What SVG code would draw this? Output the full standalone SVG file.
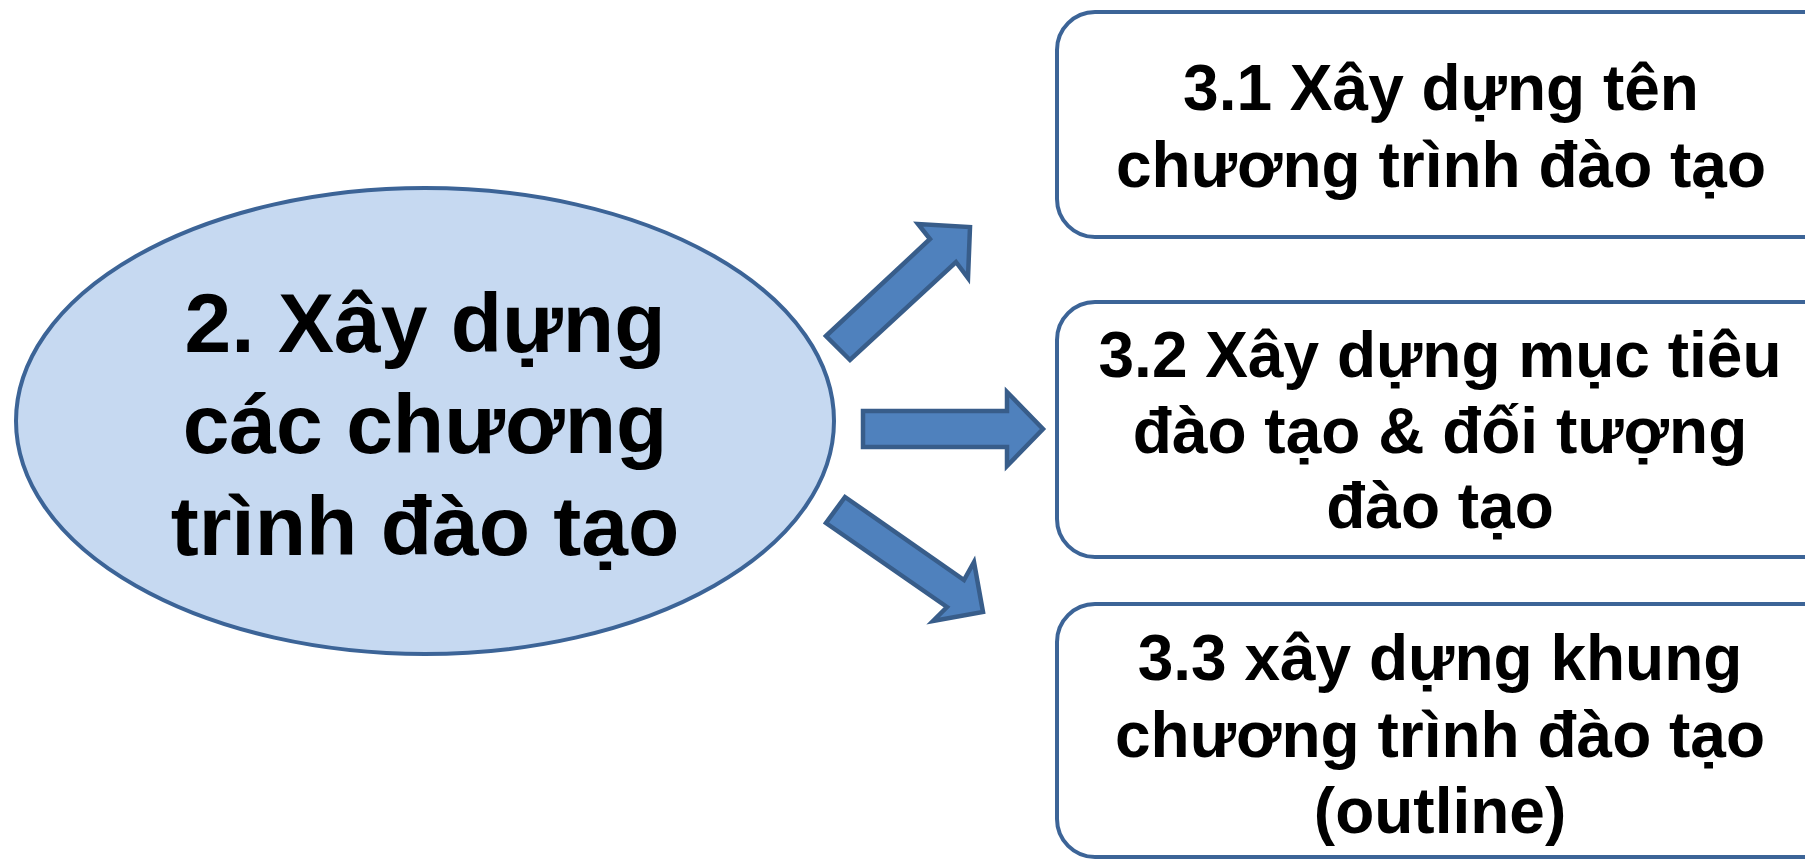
<svg xmlns="http://www.w3.org/2000/svg" width="1805" height="859" viewBox="0 0 1805 859">
<style>
.bg{fill:#ffffff}
.box{fill:#ffffff;stroke:#3C6497;stroke-width:4}
.ell{fill:#C6D9F1;stroke:#3C6497;stroke-width:4}
.arr{fill:#4F81BD;stroke:#385D8A;stroke-width:4.5;stroke-linejoin:miter}
.t{font-family:"Liberation Sans",Arial,sans-serif;font-weight:bold;fill:#000000;text-anchor:middle}
.big{font-size:84px}
.sm{font-size:64px}
</style>
<rect class="bg" x="0" y="0" width="1805" height="859"/>
<g id="node-main">
<ellipse class="ell" cx="425" cy="421" rx="409" ry="233"/>
<text class="t big" x="425" y="352">2. Xây dựng</text>
<text class="t big" x="425" y="453">các chương</text>
<text class="t big" x="425" y="555">trình đào tạo</text>
</g>
<g id="node-3-1">
<rect class="box" x="1057" y="12" width="790" height="225" rx="38" ry="38"/>
<text class="t sm" x="1441" y="110">3.1 Xây dựng tên</text>
<text class="t sm" x="1441" y="187">chương trình đào tạo</text>
</g>
<g id="node-3-2">
<rect class="box" x="1057" y="302" width="790" height="255" rx="38" ry="38"/>
<text class="t sm" x="1440" y="377">3.2 Xây dựng mục tiêu</text>
<text class="t sm" x="1440" y="453">đào tạo &amp; đối tượng</text>
<text class="t sm" x="1440" y="528">đào tạo</text>
</g>
<g id="node-3-3">
<rect class="box" x="1057" y="604" width="790" height="253" rx="38" ry="38"/>
<text class="t sm" x="1440" y="680">3.3 xây dựng khung</text>
<text class="t sm" x="1440" y="757">chương trình đào tạo</text>
<text class="t sm" x="1440" y="833">(outline)</text>
</g>
<g id="connectors">
<polygon class="arr" points="826,336 930,239 918,224 970,227 968,278 956,262 850,360"/>
<polygon class="arr" points="863,411 1007,411 1007,392 1043,429 1007,466 1007,447 863,447"/>
<polygon class="arr" points="845,497 964,580 974,562 983,612 933,621 947,607 826,523"/>
</g>
</svg>
